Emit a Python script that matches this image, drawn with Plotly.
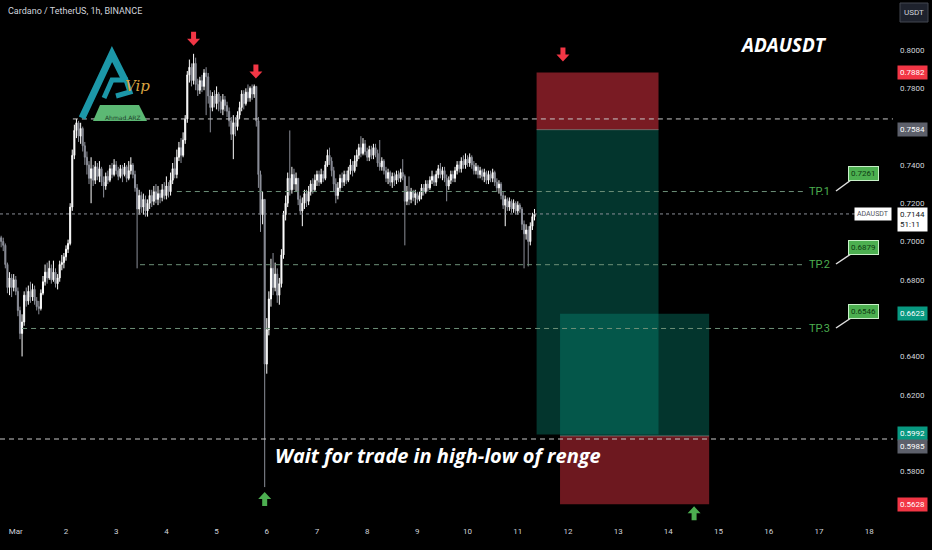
import plotly.graph_objects as go

# ---------------- data (hourly candles, hours since Mar 1 00:00) ----------------
hours = list(range(-7, 249))
first_open = 0.702
close = [
    0.700,0.698,0.688,0.676,0.681,0.676,0.680,0.674,
    0.664,0.652,0.658,0.672,0.669,0.674,0.671,0.675,0.669,0.666,0.665,0.673,
    0.679,0.684,0.681,0.686,0.680,0.684,0.678,0.681,0.688,0.689,0.692,0.696,0.699,0.718,
    0.745,0.758,0.762,0.755,0.759,0.750,0.744,0.740,0.733,0.738,0.732,0.739,0.734,0.738,
    0.731,0.729,0.734,0.732,0.738,0.735,0.740,0.737,0.734,0.738,0.735,0.739,0.733,0.737,0.740,0.735,0.728,0.717,0.724,
    0.718,0.722,0.716,0.720,0.724,0.721,0.726,0.722,0.725,0.723,0.727,0.724,0.729,0.726,0.732,0.738,0.735,0.744,0.749,0.745,0.753,
    0.764,0.787,0.791,0.784,0.793,0.782,0.779,0.784,0.781,0.788,0.786,0.776,0.770,0.776,0.772,0.777,0.773,0.769,0.774,0.771,
    0.768,0.763,0.756,0.762,0.760,0.766,0.770,0.777,0.772,0.778,0.775,0.780,0.777,0.781,
    0.763,0.735,0.714,0.722,0.636,0.654,0.670,0.686,0.676,0.683,0.672,0.678,0.693,0.714,0.720,0.733,
    0.727,0.735,0.730,0.733,0.722,0.716,0.720,0.725,0.721,0.726,0.730,0.727,0.732,0.735,0.731,0.735,0.733,0.740,0.745,0.742,
    0.737,0.730,0.724,0.728,0.733,0.731,0.735,0.732,0.737,0.740,0.737,0.742,0.745,0.749,0.746,0.751,0.747,0.744,0.748,0.745,0.749,0.746,0.741,0.739,0.742,
    0.737,0.733,0.736,0.731,0.734,0.732,0.735,0.733,0.736,0.734,0.721,0.726,0.722,0.726,0.723,0.725,0.722,0.724,0.728,0.726,0.730,0.728,0.732,0.734,0.731,
    0.735,0.738,0.735,0.737,0.733,0.729,0.732,0.735,0.733,0.737,0.740,0.738,0.742,0.740,0.743,0.741,0.744,0.740,0.737,0.739,0.735,0.737,0.734,0.736,0.732,
    0.735,0.733,0.736,0.731,0.728,0.730,0.724,0.719,0.722,0.718,0.721,0.717,0.720,0.716,0.719,0.717,0.709,0.704,0.706,0.700,0.708,0.713,0.7144,
]
high = [
    0.703,0.702,0.699,0.689,0.684,0.683,0.683,0.682,
    0.676,0.666,0.662,0.674,0.676,0.677,0.679,0.678,0.677,0.671,0.669,0.675,
    0.682,0.688,0.689,0.690,0.688,0.690,0.686,0.683,0.690,0.693,0.694,0.698,0.701,0.720,
    0.748,0.761,0.764,0.763,0.762,0.760,0.752,0.747,0.742,0.744,0.740,0.742,0.741,0.742,
    0.739,0.734,0.736,0.737,0.740,0.741,0.743,0.742,0.739,0.740,0.740,0.741,0.740,0.742,0.744,0.741,0.737,0.730,0.727,
    0.726,0.725,0.724,0.722,0.727,0.727,0.729,0.730,0.729,0.727,0.730,0.731,0.734,0.731,0.736,0.741,0.744,0.748,0.752,0.754,0.757,
    0.766,0.789,0.795,0.793,0.798,0.796,0.785,0.786,0.787,0.790,0.791,0.788,0.779,0.778,0.779,0.781,0.778,0.776,0.777,0.776,
    0.773,0.770,0.765,0.766,0.765,0.768,0.773,0.779,0.779,0.780,0.782,0.781,0.782,0.782,
    0.781,0.765,0.737,0.726,0.720,0.660,0.674,0.691,0.694,0.689,0.686,0.681,0.696,0.716,0.724,0.736,
    0.758,0.739,0.738,0.736,0.733,0.724,0.723,0.727,0.727,0.729,0.732,0.733,0.735,0.737,0.737,0.738,0.737,0.742,0.748,0.749,
    0.744,0.739,0.733,0.731,0.735,0.736,0.737,0.737,0.739,0.743,0.742,0.745,0.748,0.751,0.755,0.754,0.753,0.749,0.750,0.750,0.751,0.751,0.748,0.753,0.744,
    0.743,0.739,0.738,0.737,0.736,0.736,0.737,0.737,0.738,0.743,0.735,0.729,0.734,0.728,0.727,0.727,0.726,0.726,0.730,0.730,0.732,0.732,0.734,0.737,0.735,
    0.737,0.740,0.741,0.739,0.739,0.735,0.734,0.737,0.737,0.739,0.742,0.742,0.744,0.745,0.746,0.745,0.746,0.745,0.742,0.741,0.740,0.739,0.738,0.738,0.737,
    0.737,0.737,0.738,0.737,0.733,0.732,0.731,0.726,0.724,0.723,0.723,0.722,0.722,0.721,0.721,0.720,0.718,0.711,0.709,0.708,0.710,0.715,0.717,
]
low = [
    0.697,0.695,0.686,0.673,0.672,0.671,0.674,0.672,
    0.661,0.649,0.640,0.656,0.666,0.667,0.668,0.669,0.667,0.664,0.662,0.664,
    0.672,0.677,0.678,0.680,0.678,0.679,0.676,0.675,0.679,0.685,0.686,0.690,0.694,0.698,
    0.716,0.743,0.754,0.752,0.751,0.747,0.740,0.735,0.730,0.720,0.729,0.730,0.732,0.731,
    0.729,0.723,0.727,0.730,0.731,0.733,0.734,0.735,0.732,0.733,0.731,0.734,0.731,0.732,0.735,0.733,0.726,0.686,0.714,
    0.715,0.714,0.713,0.713,0.717,0.718,0.719,0.720,0.719,0.720,0.721,0.722,0.722,0.723,0.724,0.730,0.733,0.733,0.742,0.741,0.744,
    0.751,0.762,0.783,0.781,0.782,0.779,0.776,0.777,0.778,0.779,0.766,0.772,0.757,0.768,0.770,0.769,0.768,0.767,0.766,0.768,
    0.765,0.760,0.753,0.743,0.755,0.758,0.764,0.768,0.769,0.771,0.773,0.773,0.774,0.775,
    0.760,0.728,0.705,0.709,0.5718,0.631,0.651,0.666,0.672,0.674,0.668,0.667,0.676,0.691,0.711,0.718,
    0.724,0.725,0.727,0.726,0.719,0.714,0.708,0.717,0.718,0.719,0.724,0.725,0.726,0.729,0.729,0.730,0.731,0.732,0.739,0.740,
    0.734,0.726,0.720,0.722,0.726,0.728,0.729,0.730,0.731,0.735,0.734,0.736,0.739,0.743,0.744,0.745,0.745,0.742,0.742,0.743,0.743,0.744,0.739,0.737,0.737,
    0.735,0.731,0.730,0.729,0.728,0.729,0.730,0.731,0.731,0.732,0.698,0.719,0.719,0.720,0.721,0.719,0.720,0.721,0.722,0.724,0.725,0.726,0.727,0.730,0.729,
    0.729,0.733,0.733,0.732,0.731,0.721,0.727,0.730,0.731,0.731,0.735,0.736,0.736,0.738,0.738,0.739,0.739,0.738,0.735,0.735,0.733,0.733,0.732,0.731,0.730,
    0.730,0.731,0.731,0.729,0.726,0.725,0.722,0.717,0.708,0.716,0.716,0.715,0.715,0.714,0.714,0.715,0.706,0.686,0.701,0.687,0.698,0.706,0.711,
]

day_ticks = list(range(0, 409, 24))
day_labels = ["Mar"] + [str(d) for d in range(2, 19)]
price_ticks = [0.58, 0.62, 0.64, 0.68, 0.70, 0.72, 0.74, 0.78, 0.80]

# levels
range_high = 0.7640
range_low = 0.5969
last_price = 0.7144
tp_levels = [0.7261, 0.6879, 0.6546]
tp_names = ["TP.1", "TP.2", "TP.3"]
tp_start = [77, 59.4, 3]
tp_end = 377
range_high_start = 27.3

# positions (short then long)
short_start, short_end = 249, 307.3
short_stop, short_entry, short_target = 0.7882, 0.7584, 0.5992
long_start, long_end = 260.2, 331.5
long_stop, long_entry, long_target = 0.5628, 0.5985, 0.6623

X_MIN, X_MAX = -7.55, 419.4
Y_MIN, Y_MAX = 0.5520, 0.8261

# ---------------- figure ----------------
opens = [first_open] + close[:-1]
hi = [max(h, o, c) for h, o, c in zip(high, opens, close)]
lo = [min(l, o, c) for l, o, c in zip(low, opens, close)]

fig = go.Figure()
fig.add_trace(go.Candlestick(
    x=hours, open=opens, high=hi, low=lo, close=close,
    increasing=dict(line=dict(color="#ffffff", width=1), fillcolor="#ffffff"),
    decreasing=dict(line=dict(color="#8c8f99", width=1), fillcolor="#8c8f99"),
    whiskerwidth=0, hoverinfo="skip", showlegend=False,
))

PW, PH = 893, 525
def px(x):
    return x / PW
def py(y):
    return 1 - y / PH

shapes = []
shapes += [
    dict(type="rect", xref="x", yref="y", x0=short_start, x1=short_end, y0=short_entry, y1=short_stop,
         fillcolor="rgba(242,54,69,0.5)", line=dict(width=0), layer="below"),
    dict(type="rect", xref="x", yref="y", x0=short_start, x1=short_end, y0=short_target, y1=short_entry,
         fillcolor="rgba(8,153,129,0.35)", line=dict(width=0), layer="below"),
    dict(type="rect", xref="x", yref="y", x0=long_start, x1=long_end, y0=long_stop, y1=long_entry,
         fillcolor="rgba(242,54,69,0.45)", line=dict(width=0), layer="below"),
    dict(type="rect", xref="x", yref="y", x0=long_start, x1=long_end, y0=long_entry, y1=long_target,
         fillcolor="rgba(8,153,129,0.35)", line=dict(width=0), layer="below"),
    dict(type="line", xref="x", yref="y", x0=short_start, x1=short_end, y0=short_entry, y1=short_entry,
         line=dict(color="rgba(150,150,150,0.6)", width=1)),
    dict(type="line", xref="x", yref="y", x0=long_start, x1=long_end, y0=long_entry, y1=long_entry,
         line=dict(color="rgba(150,150,150,0.6)", width=1)),
]
shapes += [
    dict(type="line", xref="x", yref="y", x0=range_high_start, x1=X_MAX, y0=range_high, y1=range_high,
         line=dict(color="#c8c8c8", width=1, dash="5px,4px")),
    dict(type="line", xref="x", yref="y", x0=X_MIN, x1=X_MAX, y0=range_low, y1=range_low,
         line=dict(color="#c8c8c8", width=1, dash="5px,4px")),
    dict(type="line", xref="x", yref="y", x0=X_MIN, x1=405, y0=last_price, y1=last_price,
         line=dict(color="#8a8d96", width=1, dash="dot")),
]
for lvl, s in zip(tp_levels, tp_start):
    shapes.append(dict(type="line", xref="x", yref="y", x0=s, x1=tp_end, y0=lvl, y1=lvl,
                       line=dict(color="#6d8f78", width=1, dash="5px,4px")))

# logo (decoration)
shapes.append(dict(type="path", xref="paper", yref="paper",
                   path="M " + " L ".join(f"{px(a)},{py(b)}" for a, b in [(82, 118), (112, 54), (125, 80)]),
                   line=dict(color="#1c97a8", width=7)))
shapes.append(dict(type="path", xref="paper", yref="paper",
                   path="M " + " L ".join(f"{px(a)},{py(b)}" for a, b in [(104, 98), (112, 80), (126, 80), (130, 92), (116, 96)]),
                   line=dict(color="#1c97a8", width=5)))
shapes.append(dict(type="path", xref="paper", yref="paper",
                   path="M " + " L ".join(f"{px(a)},{py(b)}" for a, b in [(93, 121), (100, 105), (139, 105), (147, 121)]) + " Z",
                   fillcolor="#5cb874", line=dict(width=0)))

shapes.append(dict(type="rect", xref="paper", yref="paper", x0=px(900), x1=px(928), y0=py(22), y1=py(3),
                   fillcolor="#1e222d", line=dict(color="#434651", width=1)))

tp_box_y = [173, 247, 311]
tp_line_y = [191, 264, 328]
for by, ly in zip(tp_box_y, tp_line_y):
    shapes.append(dict(type="line", xref="paper", yref="paper", x0=px(836), y0=py(ly), x1=px(851), y1=py(by + 7),
                       line=dict(color="#e0e0e0", width=1.5)))

# block arrows (pixel-sized, anchored on data points)
def block_arrow(xv, yv, down, gap):
    s = 1 if down else -1
    pts = [(-2.5, gap + 14), (2.5, gap + 14), (2.5, gap + 7), (6.5, gap + 7), (0, gap),
           (-6.5, gap + 7), (-2.5, gap + 7)]
    path = "M " + " L ".join(f"{a},{s * b}" for a, b in pts) + " Z"
    return dict(type="path", xref="x", yref="y", xsizemode="pixel", ysizemode="pixel",
                xanchor=xv, yanchor=yv, path=path,
                fillcolor="#f23645" if down else "#4caf50", line=dict(width=0))

peak_i = hi.index(max(hi))
dip_i = lo.index(min(lo))
shapes += [
    block_arrow(hours[peak_i], hi[peak_i], True, 8),
    block_arrow(114.8, hi[hours.index(114)], True, 6),
    block_arrow(short_start + 12.6, short_stop, True, 11),
    block_arrow(hours[dip_i], lo[dip_i], False, 5),
    block_arrow(long_end - 7.2, long_stop, False, 2),
]

def ptext(x, y, text, font, xanchor="center", **kw):
    d = dict(xref="paper", yref="paper", x=px(x), y=py(y), xanchor=xanchor, yanchor="middle",
             text=text, showarrow=False, font=font)
    d.update(kw)
    return d

annotations = [
    ptext(6, 11, "Cardano / TetherUS, 1h, BINANCE", dict(family="Roboto", size=9, color="#d1d4dc"), xanchor="left"),
    ptext(914, 12.5, "USDT", dict(family="Roboto", size=8, color="#d1d4dc")),
    ptext(783, 45, "ADAUSDT", dict(family="Open Sans", size=19, color="#ffffff", weight="bold", style="italic")),
    ptext(438, 455, "Wait for trade in high-low of renge",
          dict(family="Open Sans", size=20, color="#ffffff", weight="bold", style="italic")),
    ptext(137, 86, "Vip", dict(family="DejaVu Serif", size=15, color="#d9a441", style="italic")),
    ptext(123, 117, "Ahmad.ARZ", dict(family="DejaVu Sans", size=6, color="#1d3b2a")),
]

for lvl, name, by in zip(tp_levels, tp_names, tp_box_y):
    annotations.append(dict(xref="x", yref="y", x=tp_end + 1.5, y=lvl, xanchor="left", yanchor="middle",
                            text=name, showarrow=False,
                            font=dict(family="Roboto", size=11, color="#4caf50")))
    annotations.append(ptext(863, by, f"{lvl:.4f}", dict(family="Roboto", size=8, color="#0d3b12"),
                             bgcolor="#4caf50", bordercolor="#c8f0c8", borderwidth=1, borderpad=2))

def price_label(val, bg, fg="#ffffff", yshift=0):
    return dict(xref="paper", yref="y", x=1, xanchor="left", yanchor="middle", xshift=4, y=val, yshift=yshift,
                text=f"{val:.4f}", showarrow=False, bgcolor=bg, borderpad=2,
                font=dict(family="Roboto", size=8, color=fg))

annotations += [
    price_label(short_stop, "#f23645"),
    price_label(short_entry, "#5d606b"),
    price_label(long_target, "#089981"),
    price_label(short_target, "#089981", yshift=1),
    price_label(long_entry, "#5d606b", yshift=-11),
    price_label(long_stop, "#f23645"),
]
annotations.append(dict(xref="paper", yref="y", x=1, xanchor="left", xshift=4, y=last_price, yanchor="top", yshift=7,
                        text=f"{last_price:.4f}<br>51:11", showarrow=False, bgcolor="#ffffff", borderpad=2,
                        align="left", font=dict(family="Roboto", size=8, color="#131722")))
annotations.append(dict(xref="paper", yref="y", x=1, xanchor="right", yanchor="middle", xshift=-1, y=last_price,
                        text="ADAUSDT", showarrow=False, bgcolor="#ffffff", borderpad=2,
                        font=dict(family="Roboto", size=7, color="#50535e")))

fig.update_layout(
    width=932, height=550,
    paper_bgcolor="#000000", plot_bgcolor="#000000",
    margin=dict(l=0, r=39, t=0, b=25),
    shapes=shapes, annotations=annotations,
    showlegend=False,
    xaxis=dict(range=[X_MIN, X_MAX], rangeslider=dict(visible=False), showgrid=False, zeroline=False,
               tickvals=day_ticks, ticktext=day_labels, ticks="", showline=False,
               tickfont=dict(family="Roboto", size=8, color="#d1d4dc")),
    yaxis=dict(range=[Y_MIN, Y_MAX], side="right", showgrid=False, zeroline=False, tickvals=price_ticks,
               tickformat=".4f", ticks="", showline=False, ticklabelstandoff=6,
               tickfont=dict(family="Roboto", size=8, color="#d1d4dc")),
)

fig.write_html("out.html", config={"displayModeBar": False},
               post_script="document.body.style.margin='0';document.body.style.background='#000000';")
